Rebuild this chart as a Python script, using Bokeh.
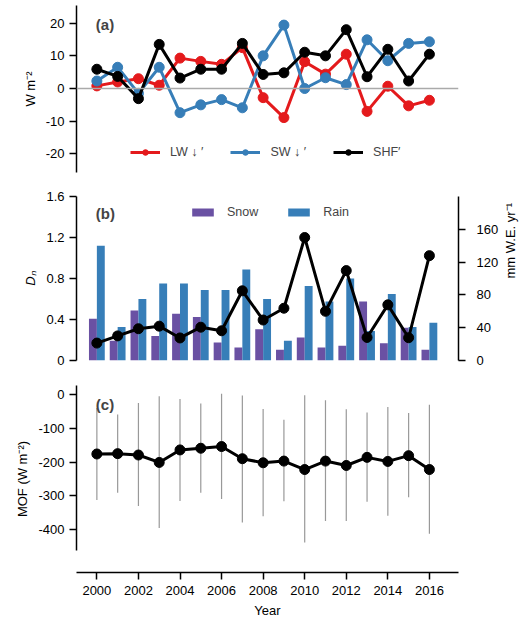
import math
from bokeh.plotting import figure
from bokeh.models import (Range1d, LinearAxis, FixedTicker, Span, Legend,
                          LegendItem, Label, ColumnDataSource)
from bokeh.layouts import column
from bokeh.transform import dodge
from bokeh.embed import file_html
from bokeh.resources import INLINE

# ---------------- data ----------------
years = list(range(2000, 2017))

# panel (a): anomalies, W m-2
lw_down = [0.8, 2.0, 3.0, 1.0, 9.3, 8.3, 7.4, 12.5, -2.8, -8.9, 8.2, 4.4, 10.5, -7.0, 0.7, -5.3, -3.6]
sw_down = [2.3, 6.5, -1.5, 6.5, -7.4, -5.0, -3.4, -5.9, 10.0, 19.4, 0.0, 3.3, 1.2, 14.9, 8.5, 13.8, 14.3]
shf = [5.9, 3.7, -3.1, 13.5, 3.2, 5.9, 5.9, 13.8, 4.3, 4.8, 11.1, 10.0, 18.0, 3.6, 12.0, 2.3, 10.5]

# panel (b)
d_n = [0.17, 0.24, 0.31, 0.335, 0.22, 0.325, 0.29, 0.68, 0.395, 0.51, 1.2, 0.48, 0.877, 0.225, 0.543, 0.222, 1.023]
snow = [51, 24, 61, 30, 57, 53, 22, 16, 38, 13, 28, 16, 18, 72, 21, 40, 13]
rain = [140, 41, 75, 94, 94, 86, 86, 111, 75, 24, 91, 72, 100, 36, 81, 41, 46]

# panel (c)
mof = [-176, -175, -179, -201, -164, -159, -154, -190, -202, -197, -222, -197, -210, -186, -198, -181, -222]
mof_low = [-312, -291, -330, -395, -315, -291, -309, -379, -360, -316, -438, -374, -374, -317, -359, -304, -412]
mof_high = [-40, -59, -25, -5, -13, -27, 2, -3, -43, -75, -2, -17, -44, -53, -37, -55, -30]

a_ticks = [-20, -10, 0, 10, 20]
b_left_ticks = [0, 0.4, 0.8, 1.2, 1.6]
b_right_ticks = [0, 40, 80, 120, 160]
c_ticks = [-400, -300, -200, -100, 0]
x_ticks = [2000, 2002, 2004, 2006, 2008, 2010, 2012, 2014, 2016]

RED = "#e41a1c"
BLUE = "#377eb8"
PURPLE = "#6a51a3"
RAINBLUE = "#377eb8"
FONT = "Liberation Sans"
TICK_FS = "13px"
LAB_FS = "13px"

W = 528
XR = (1999.02, 2017.4)


def style_axis(ax):
    ax.axis_line_width = 1.5
    ax.axis_line_color = "black"
    ax.major_tick_out = 7
    ax.major_tick_in = 0
    ax.major_tick_line_width = 1.5
    ax.minor_tick_line_color = None
    ax.major_label_text_font = FONT
    ax.major_label_text_font_size = TICK_FS
    ax.major_label_text_color = "black"
    ax.major_label_standoff = 5
    ax.axis_label_text_font = FONT
    ax.axis_label_text_font_size = LAB_FS
    ax.axis_label_text_font_style = "normal"
    ax.axis_label_text_color = "black"


def hyphen_labels(ticks):
    return {t: str(t) for t in ticks}


def base_fig(height, top, bottom, yr, x_axis=False):
    p = figure(width=W, height=height, output_backend="svg", toolbar_location=None,
               x_range=Range1d(*XR), y_range=Range1d(*yr),
               x_axis_location="below" if x_axis else None,
               min_border_left=76, min_border_right=63,
               min_border_top=top, min_border_bottom=bottom)
    p.outline_line_color = None
    p.grid.visible = False
    p.background_fill_color = "white"
    return p


def panel_label(p, txt, y):
    p.add_layout(Label(x=years[0], y=y, text=txt, text_font=FONT, text_font_size="15px",
                       text_font_style="bold", text_baseline="middle", text_align="left",
                       x_offset=-1))


# ---------------- panel (a) ----------------
pa = base_fig(186, 5, 14, (-25.7, 25.4))
style_axis(pa.yaxis[0])
pa.yaxis[0].ticker = FixedTicker(ticks=a_ticks)
pa.yaxis[0].major_label_overrides = hyphen_labels(a_ticks)
pa.yaxis[0].axis_label = "W m⁻²"
pa.add_layout(Span(location=0, dimension="width", line_color="#aaaaaa", line_width=1.5))

items = []
for vals, col, name in [(lw_down, RED, "LW ↓ ′"), (sw_down, BLUE, "SW ↓ ′"), (shf, "black", "SHF′")]:
    l = pa.line(years, vals, line_color=col, line_width=3)
    c = pa.scatter(years, vals, size=10, fill_color=col, line_color=col)
    items.append(LegendItem(label=name, renderers=[l, c]))
leg_a = Legend(items=items, orientation="horizontal", location=(54, 13),
               glyph_width=30, glyph_height=14, label_height=14, label_standoff=10,
               spacing=27, padding=0, margin=0, background_fill_alpha=0,
               border_line_color=None, label_text_font=FONT, label_text_font_size="12.5px")
pa.add_layout(leg_a)
panel_label(pa, "(a)", 19.6)

# ---------------- panel (b) ----------------
pb = base_fig(188, 10, 14, (0, 1.6))
style_axis(pb.yaxis[0])
pb.yaxis[0].ticker = FixedTicker(ticks=b_left_ticks)
pb.yaxis[0].major_label_overrides = {0: "0", 0.4: "0.4", 0.8: "0.8", 1.2: "1.2", 1.6: "1.6"}
pb.yaxis[0].axis_label = "Dₙ"
pb.yaxis[0].axis_label_text_font_style = "italic"
pb.extra_y_ranges = {"mm": Range1d(0, 200)}
rax = LinearAxis(y_range_name="mm", ticker=FixedTicker(ticks=b_right_ticks),
                 axis_label="mm W.E. yr⁻¹")
style_axis(rax)
rax.major_label_standoff = 11
rax.axis_label_standoff = 9
try:
    rax.axis_label_orientation = math.pi / 2
except Exception:
    pass
pb.add_layout(rax, "right")

src = ColumnDataSource(dict(year=years, snow=snow, rain=rain))
bs = pb.vbar(x=dodge("year", -0.19, range=pb.x_range), top="snow", width=0.38,
             source=src, y_range_name="mm", fill_color=PURPLE, line_color=None)
br = pb.vbar(x=dodge("year", 0.19, range=pb.x_range), top="rain", width=0.38,
             source=src, y_range_name="mm", fill_color=RAINBLUE, line_color=None)
pb.line(years, d_n, line_color="black", line_width=3)
pb.scatter(years, d_n, size=10, fill_color="black", line_color="black")
leg_b = Legend(items=[LegendItem(label="Snow", renderers=[bs]), LegendItem(label="Rain", renderers=[br])],
               orientation="horizontal", location=(113, 141),
               glyph_width=27, glyph_height=10, label_height=12, label_standoff=11,
               spacing=27, padding=0, margin=0, background_fill_alpha=0,
               border_line_color=None, label_text_font=FONT, label_text_font_size="12.5px")
pb.add_layout(leg_b)
panel_label(pb, "(b)", 1.434)

# ---------------- panel (c) ----------------
pc = base_fig(247, 11, 49, (-526.6, 26.6), x_axis=True)
style_axis(pc.yaxis[0])
pc.yaxis[0].ticker = FixedTicker(ticks=c_ticks)
pc.yaxis[0].major_label_overrides = hyphen_labels(c_ticks)
pc.yaxis[0].bounds = (-462, 27)
pc.yaxis[0].axis_label = "MOF (W m⁻²)"
style_axis(pc.xaxis[0])
pc.xaxis[0].ticker = FixedTicker(ticks=x_ticks)
pc.xaxis[0].axis_label = "Year"
pc.xaxis[0].major_label_standoff = 6

pc.segment(x0=years, y0=mof_low, x1=years, y1=mof_high, line_color="#999999", line_width=1.2)
pc.line(years, mof, line_color="black", line_width=3)
pc.scatter(years, mof, size=10, fill_color="black", line_color="black")
panel_label(pc, "(c)", -29.6)

layout = column(pa, pb, pc, spacing=0)
open("out.html", "w").write(file_html(layout, INLINE))
